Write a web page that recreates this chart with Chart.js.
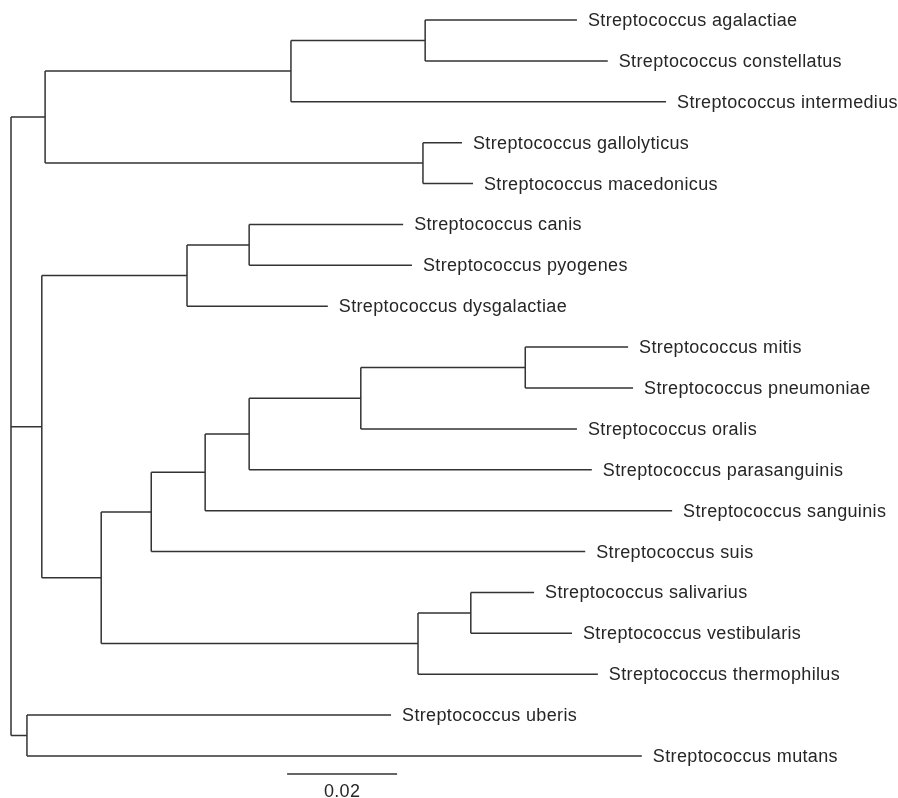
<!DOCTYPE html>
<html>
<head>
<meta charset="utf-8">
<script src="https://cdn.jsdelivr.net/npm/chart.js@4.4.1/dist/chart.umd.min.js"></script>
<style>
  html, body { margin: 0; padding: 0; background: #fff; }
  canvas { display: block; }
</style>
</head>
<body>
<canvas id="treeChart" width="898" height="798"></canvas>
<script>
// leaves, top to bottom, with their distance from the root
const leafNames = [
  "Streptococcus agalactiae", "Streptococcus constellatus", "Streptococcus intermedius",
  "Streptococcus gallolyticus", "Streptococcus macedonicus",
  "Streptococcus canis", "Streptococcus pyogenes", "Streptococcus dysgalactiae",
  "Streptococcus mitis", "Streptococcus pneumoniae", "Streptococcus oralis",
  "Streptococcus parasanguinis", "Streptococcus sanguinis", "Streptococcus suis",
  "Streptococcus salivarius", "Streptococcus vestibularis", "Streptococcus thermophilus",
  "Streptococcus uberis", "Streptococcus mutans"
];
const leafDepth = [
  0.1029, 0.1085, 0.1191,
  0.0820, 0.0840,
  0.0713, 0.0729, 0.0576,
  0.1122, 0.1131, 0.1029,
  0.1056, 0.1202, 0.1044,
  0.0951, 0.1020, 0.1067,
  0.0691, 0.1147
];

// internal nodes: distance from root and children (node or leaf names)
const nodeNames = ["root", "A", "T1", "T2", "T3", "B", "P1", "P2", "M0", "M1", "M2", "M3", "M4", "M5", "S1", "S2", "U"];
const nodeDepth = [0, 0.0062, 0.0509, 0.0753, 0.0749, 0.0056, 0.0320, 0.0433, 0.0164, 0.0255, 0.0353, 0.0433, 0.0636, 0.0935, 0.0740, 0.0836, 0.0029];
const nodeChildren = [
  ["A", "B", "U"],
  ["T1", "T3"],
  ["T2", "Streptococcus intermedius"],
  ["Streptococcus agalactiae", "Streptococcus constellatus"],
  ["Streptococcus gallolyticus", "Streptococcus macedonicus"],
  ["P1", "M0"],
  ["P2", "Streptococcus dysgalactiae"],
  ["Streptococcus canis", "Streptococcus pyogenes"],
  ["M1", "S1"],
  ["M2", "Streptococcus suis"],
  ["M3", "Streptococcus sanguinis"],
  ["M4", "Streptococcus parasanguinis"],
  ["M5", "Streptococcus oralis"],
  ["Streptococcus mitis", "Streptococcus pneumoniae"],
  ["S2", "Streptococcus thermophilus"],
  ["Streptococcus salivarius", "Streptococcus vestibularis"],
  ["Streptococcus uberis", "Streptococcus mutans"]
];

// scale bar
const scaleBarStart = 0.0502;
const scaleBarLength = 0.02;
const scaleBarRow = 18.44;
const scaleBarLabel = "0.02";

// work out row (y) of every node from its leaves
function depthOf(name) {
  const li = leafNames.indexOf(name);
  return li >= 0 ? leafDepth[li] : nodeDepth[nodeNames.indexOf(name)];
}
function rowOf(name) {
  const li = leafNames.indexOf(name);
  if (li >= 0) return li;
  const kids = nodeChildren[nodeNames.indexOf(name)];
  return (rowOf(kids[0]) + rowOf(kids[kids.length - 1])) / 2;
}

const branches = [];
nodeNames.forEach((n, i) => {
  const kids = nodeChildren[i];
  const d = nodeDepth[i];
  // vertical bar of the node
  branches.push({x: d, y: rowOf(kids[0])}, {x: d, y: rowOf(kids[kids.length - 1])}, {x: d, y: null});
  // horizontal branch to each child
  kids.forEach(k => {
    const r = rowOf(k);
    branches.push({x: d, y: r}, {x: depthOf(k), y: r}, {x: d, y: null});
  });
});

const bar = [
  {x: scaleBarStart, y: scaleBarRow},
  {x: scaleBarStart + scaleBarLength, y: scaleBarRow}
];

const labelPlugin = {
  id: 'leafLabels',
  afterDatasetsDraw(chart) {
    const ctx = chart.ctx;
    const x = chart.scales.x, y = chart.scales.y;
    ctx.save();
    ctx.font = '18px "Liberation Sans", Arial, sans-serif';
    ctx.letterSpacing = '0.35px';
    ctx.fillStyle = '#262626';
    ctx.textBaseline = 'middle';
    leafNames.forEach((name, i) => {
      ctx.fillText(name, x.getPixelForValue(leafDepth[i]) + 11, y.getPixelForValue(i) + 1);
    });
    ctx.textAlign = 'center';
    ctx.fillText(scaleBarLabel, x.getPixelForValue(scaleBarStart + scaleBarLength / 2), y.getPixelForValue(scaleBarRow) + 18);
    ctx.restore();
  }
};

new Chart(document.getElementById("treeChart"), {
  type: 'scatter',
  data: {
    datasets: [
      {
        data: branches,
        showLine: true,
        spanGaps: false,
        borderColor: '#333333',
        borderWidth: 1.5,
        pointRadius: 0,
        tension: 0
      },
      {
        data: bar,
        showLine: true,
        borderColor: '#333333',
        borderWidth: 1.5,
        pointRadius: 0
      }
    ]
  },
  options: {
    responsive: false,
    animation: false,
    layout: { padding: 0 },
    scales: {
      x: { type: 'linear', display: false, min: -0.002, max: 0.16127 },
      y: { type: 'linear', display: false, reverse: true, min: -0.489, max: 19.027 }
    },
    plugins: {
      legend: { display: false },
      tooltip: { enabled: false }
    }
  },
  plugins: [labelPlugin]
});
</script>
</body>
</html>
